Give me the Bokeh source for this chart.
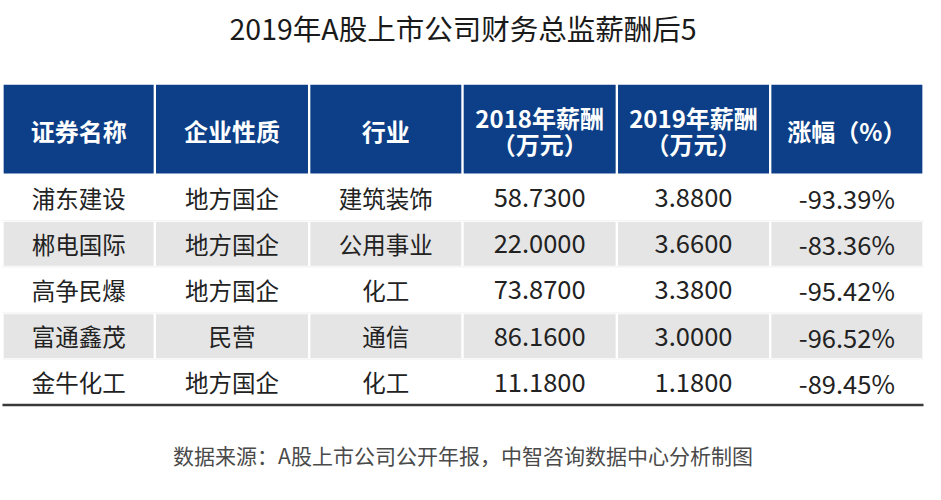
from bokeh.plotting import figure
from bokeh.models import Range1d
from bokeh.core.properties import value
from bokeh.embed import file_html
from bokeh.resources import INLINE

# ---- data ----
title_text = "2019年A股上市公司财务总监薪酬后5"
source_text = "数据来源：A股上市公司公开年报，中智咨询数据中心分析制图"
headers = [["证券名称"], ["企业性质"], ["行业"],
           ["2018年薪酬", "（万元）"], ["2019年薪酬", "（万元）"], ["涨幅（%）"]]
names = ["浦东建设", "郴电国际", "高争民爆", "富通鑫茂", "金牛化工"]
nature = ["地方国企", "地方国企", "地方国企", "民营", "地方国企"]
industry = ["建筑装饰", "公用事业", "化工", "通信", "化工"]
sal_2018 = [58.73, 22.00, 73.87, 86.16, 11.18]
sal_2019 = [3.88, 3.66, 3.38, 3.00, 1.18]
change = [-93.39, -83.36, -95.42, -96.52, -89.45]

# ---- layout (reference pixel space 941 x 500) ----
W, H = 941, 500
col_edges = [2, 157, 314, 470, 627, 783, 939]
head_top, head_bot = 87, 180
row_h = 47.6
gap = 1.2
FONT = value("Noto Sans CJK SC")
BLUE = "#0c3f87"
GRAY = "#e5e5e5"
TXT = "#222222"

p = figure(width=925, height=484, x_range=Range1d(0, W), y_range=Range1d(H, 0),
           output_backend="svg", toolbar_location=None, min_border=0,
           background_fill_color="white", border_fill_color="white")
p.axis.visible = False
p.grid.visible = False
p.outline_line_color = None

ncol = len(col_edges) - 1
nrow = len(names)

# header cells
p.quad(left=[col_edges[i] + gap for i in range(ncol)],
       right=[col_edges[i + 1] - gap for i in range(ncol)],
       top=[head_top] * ncol, bottom=[head_bot - gap] * ncol,
       fill_color=BLUE, line_color=None)

# alternating gray rows
gl, gr, gt, gb = [], [], [], []
for r in range(nrow):
    if r % 2 == 1:
        for i in range(ncol):
            gl.append(col_edges[i] + gap)
            gr.append(col_edges[i + 1] - gap)
            gt.append(head_bot + r * row_h + gap)
            gb.append(head_bot + (r + 1) * row_h - gap)
p.quad(left=gl, right=gr, top=gt, bottom=gb, fill_color=GRAY, line_color=None)

# faint separators between rows
sep_y = [head_bot + (r + 1) * row_h for r in range(nrow - 1)]
p.segment(x0=[col_edges[0]] * len(sep_y), x1=[col_edges[-1]] * len(sep_y),
          y0=sep_y, y1=sep_y, line_color="#f0f0f0", line_width=1)

# bottom rule
bottom_y = head_bot + nrow * row_h
p.segment(x0=[col_edges[0]], x1=[col_edges[-1]], y0=[bottom_y], y1=[bottom_y],
          line_color="#3a3a3a", line_width=2.5)

centers = [(col_edges[i] + col_edges[i + 1]) / 2 for i in range(ncol)]

# header text
hx, hy, ht = [], [], []
head_mid = (head_top + head_bot) / 2 + 1
for i, lines in enumerate(headers):
    n = len(lines)
    for k, t in enumerate(lines):
        hx.append(centers[i])
        hy.append(head_mid + (k - (n - 1) / 2) * 27)
        ht.append(t)
p.text(x=hx, y=hy, text=ht, text_align="center", text_baseline="middle",
       text_font=FONT, text_font_size="24px", text_font_style="bold",
       text_color="white")

# body text: CJK columns and numeric columns
cx, cy, ct = [], [], []
nx, ny, nt = [], [], []
for r in range(nrow):
    yc = head_bot + (r + 0.5) * row_h
    for i, t in enumerate([names[r], nature[r], industry[r]]):
        cx.append(centers[i]); cy.append(yc); ct.append(t)
    for j, t in enumerate([f"{sal_2018[r]:.4f}", f"{sal_2019[r]:.4f}",
                           f"{change[r]:.2f}%"]):
        nx.append(centers[3 + j]); ny.append(yc); nt.append(t)
p.text(x=cx, y=cy, text=ct, text_align="center", text_baseline="middle",
       text_font=FONT, text_font_size="23.5px", text_color=TXT)
p.text(x=nx, y=ny, text=nt, text_align="center", text_baseline="middle",
       text_font=FONT, text_font_size="25.5px", text_color=TXT)

# title and source
p.text(x=[W / 2], y=[28], text=[title_text], text_align="center",
       text_baseline="middle", text_font=FONT, text_font_size="28.5px",
       text_color="#1a1a1a")
p.text(x=[W / 2], y=[470], text=[source_text], text_align="center",
       text_baseline="middle", text_font=FONT, text_font_size="21px",
       text_color="#4a4a4a")

open("out.html", "w").write(file_html(p, INLINE))
